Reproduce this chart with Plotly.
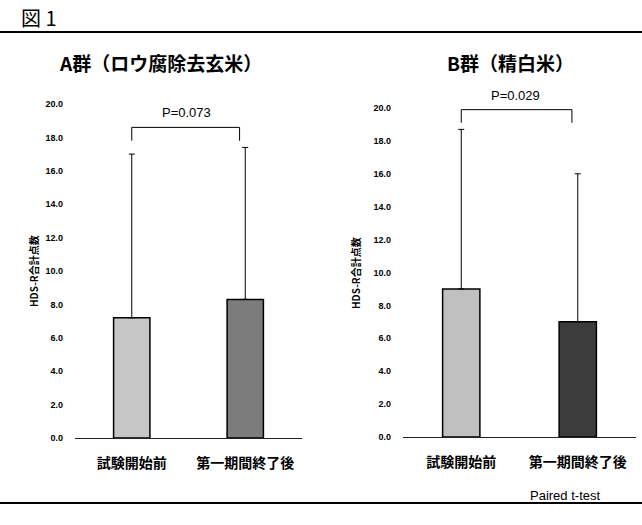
import plotly.graph_objects as go

# ---- data ----
categories = ["試験開始前", "第一期間終了後"]
a_means = [7.2, 8.3]
a_sd = [9.8, 9.1]
b_means = [9.0, 7.0]
b_sd = [9.7, 9.0]
a_colors = ["#c6c6c6", "#7c7c7c"]
b_colors = ["#c0c0c0", "#3c3c3c"]
panel_titles = ["A群（ロウ腐除去玄米）", "B群（精白米）"]
p_texts = ["P=0.073", "P=0.029"]
bracket_levels = [18.6, 19.9]
y_ticks = [0, 2, 4, 6, 8, 10, 12, 14, 16, 18, 20]
y_title = "HDS-R合計点数"

W, H = 642, 525
def px(x):
    return x / W
def py(y):
    return 1 - y / H

fig = go.Figure()
for i, (means, sd, cols) in enumerate([(a_means, a_sd, a_colors), (b_means, b_sd, b_colors)]):
    fig.add_trace(go.Bar(
        x=categories, y=means,
        marker=dict(color=cols, line=dict(color="black", width=1.5)),
        width=0.32,
        error_y=dict(type="data", symmetric=False, array=sd, arrayminus=[0, 0],
                     color="black", thickness=1, width=3),
        xaxis="x" if i == 0 else "x2", yaxis="y" if i == 0 else "y2",
        showlegend=False,
    ))

cjk = "Noto Sans CJK JP"
tickfont_y = dict(family="Liberation Sans", size=9, color="black", weight="bold")
tickfont_x = dict(family=cjk, size=14, color="black", weight="bold")

common_x = dict(type="category", range=[-0.5, 1.5], showline=True, linecolor="#222",
                linewidth=1, ticks="", showgrid=False, tickfont=tickfont_x,
                ticklabelstandoff=12, fixedrange=True)
common_y = dict(range=[0, 21], tickvals=y_ticks, tickformat=".1f", showline=False,
                showgrid=False, zeroline=False, ticks="", tickfont=tickfont_y,
                ticklabelstandoff=11, fixedrange=True)

fig.update_layout(
    width=W, height=H, margin=dict(l=0, r=0, t=0, b=0, autoexpand=False),
    paper_bgcolor="white", plot_bgcolor="white",
    xaxis=dict(domain=[px(75), px(302)], anchor="y", **common_x),
    yaxis=dict(domain=[py(438), py(438 - 21 * 16.7)], anchor="x", **common_y),
    xaxis2=dict(domain=[px(403), px(636)], anchor="y2", **common_x),
    yaxis2=dict(domain=[py(437), py(437 - 21 * 16.45)], anchor="x2", **common_y),
)

# brackets
for i, lvl in enumerate(bracket_levels):
    xr = "x" if i == 0 else "x2"
    yr = "y" if i == 0 else "y2"
    fig.add_shape(type="path", xref=xr, yref=yr,
                  path=f"M 0.0,{lvl - 0.8} L 0.0,{lvl} L 0.95,{lvl} L 0.95,{lvl - 0.8}",
                  line=dict(color="black", width=1))

def ann(x, y, text, font, **kw):
    d = dict(x=px(x), y=py(y), xref="paper", yref="paper", showarrow=False,
             xanchor="center", yanchor="middle", text=text, font=font)
    d.update(kw)
    return d

title_font = dict(family=cjk, size=19, color="black", weight="bold")
p_font = dict(family="Liberation Sans", size=13, color="black")
yt_font = dict(family=cjk, size=10, color="black", weight="bold")

annots = [
    ann(160, 62, panel_titles[0], title_font),
    ann(510, 62, panel_titles[1], title_font),
    ann(187, 112, p_texts[0], p_font),
    ann(515, 95, p_texts[1], p_font),
    ann(33, 271, y_title, yt_font, textangle=-90),
    ann(355, 273, y_title, yt_font, textangle=-90),
    ann(19, 18, "図 1", dict(family=cjk, size=20, color="black"), xanchor="left"),
    ann(565, 495, "Paired t-test", dict(family="Liberation Sans", size=13, color="black")),
]
fig.update_layout(annotations=annots)

# frame lines
fig.add_shape(type="line", xref="paper", yref="paper", x0=0, x1=1, y0=py(32), y1=py(32),
              line=dict(color="black", width=2))
fig.add_shape(type="line", xref="paper", yref="paper", x0=0, x1=1, y0=py(503), y1=py(503),
              line=dict(color="black", width=2))

fig.write_html("out.html", config={"displayModeBar": False},
               post_script="document.body.style.margin='0';")
